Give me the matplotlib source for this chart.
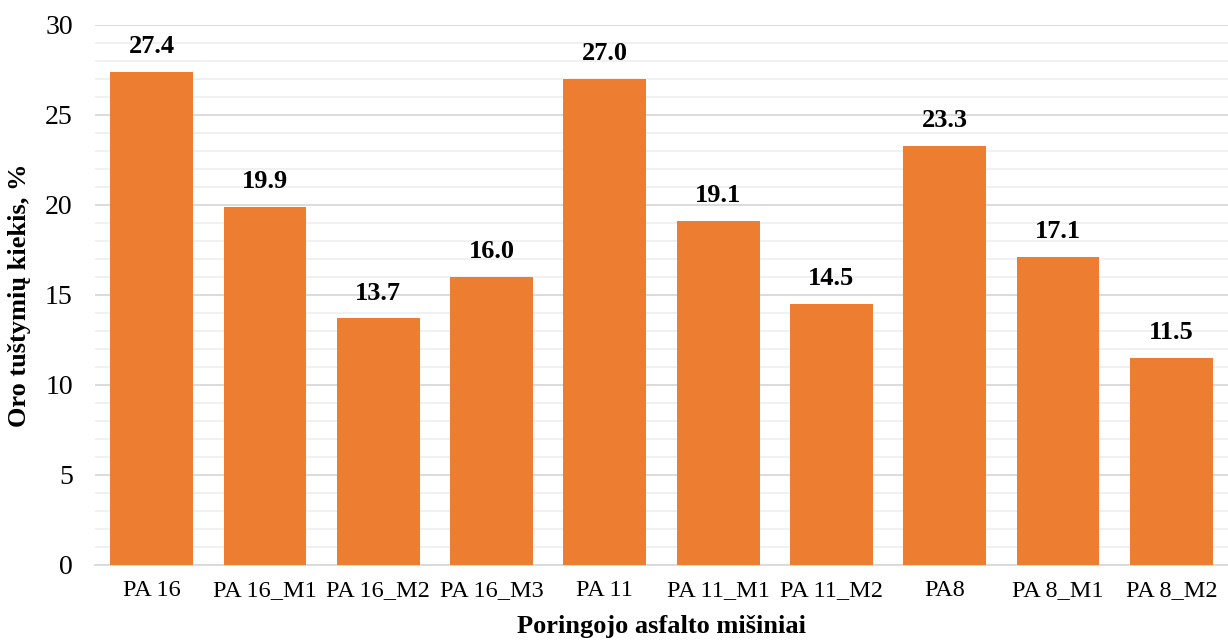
import matplotlib
matplotlib.use("Agg")
import matplotlib.pyplot as plt
from matplotlib.ticker import MultipleLocator

categories = ["PA 16", "PA 16_M1", "PA 16_M2", "PA 16_M3", "PA 11",
              "PA 11_M1", "PA 11_M2", "PA8", "PA 8_M1", "PA 8_M2"]
values = [27.4, 19.9, 13.7, 16.0, 27.0, 19.1, 14.5, 23.3, 17.1, 11.5]

plt.rcParams["font.family"] = ["Liberation Serif", "DejaVu Serif"]

fig = plt.figure(figsize=(12.28, 6.41), dpi=100)
ax = fig.add_axes([95 / 1228, 76 / 641, 1133 / 1228, 540 / 641])

x = range(len(categories))
bars = ax.bar(x, values, width=0.73, color="#ED7D31", zorder=3)

for xi, v in zip(x, values):
    ax.annotate(f"{v:.1f}", (xi, v), xytext=(0, 10), textcoords="offset points",
                ha="center", va="bottom", fontsize=19, fontweight="bold")

ax.set_xlim(-0.5, len(categories) - 0.5)
ax.set_ylim(0, 30)
ax.yaxis.set_major_locator(MultipleLocator(5))
ax.yaxis.set_minor_locator(MultipleLocator(1))
ax.grid(axis="y", which="major", color="#d9d9d9", linewidth=1.3, zorder=0)
ax.grid(axis="y", which="minor", color="#f0f0f0", linewidth=1.3, zorder=0)

ax.set_xticks(list(x))
ax.set_xticklabels(categories, fontsize=17.5)
ax.tick_params(axis="y", labelsize=20, length=0, pad=16)
ax.tick_params(axis="y", which="minor", length=0)
ax.tick_params(axis="x", length=0, pad=11)

for s in ["top", "right", "left"]:
    ax.spines[s].set_visible(False)
ax.spines["bottom"].set_color("#d9d9d9")
ax.spines["bottom"].set_linewidth(1.3)

ax.set_ylabel("Oro tuštymių kiekis, %", fontsize=19, fontweight="bold", labelpad=10)
ax.set_xlabel("Poringojo asfalto mišiniai", fontsize=19, fontweight="bold", labelpad=10)

fig.savefig("out.png", dpi=100)
